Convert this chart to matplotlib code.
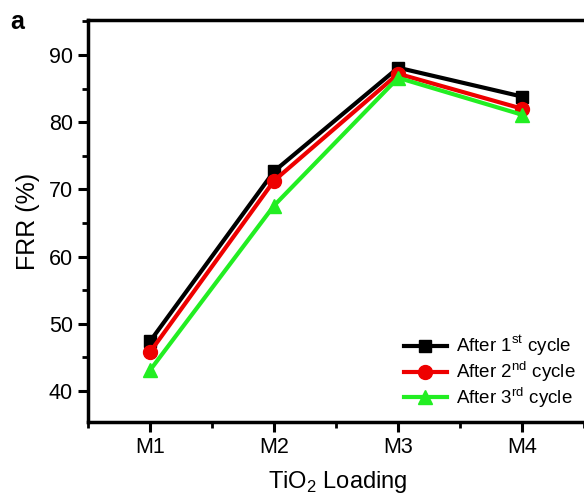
import matplotlib
matplotlib.use('Agg')
import matplotlib.pyplot as plt
from matplotlib.ticker import MultipleLocator

plt.rcParams['font.family'] = ['Liberation Sans', 'DejaVu Sans']

samples = ['M1', 'M2', 'M3', 'M4']
cycle1 = [47.4, 72.7, 88.1, 83.8]
cycle2 = [45.8, 71.3, 87.2, 82.0]
cycle3 = [43.1, 67.6, 86.6, 81.1]

fig = plt.figure(figsize=(5.84, 4.94), dpi=100)
ax = fig.add_axes([88 / 584, 72 / 494, 500 / 584, 402 / 494])

x = range(1, len(samples) + 1)
ax.plot(x, cycle1, color='black', marker='s', lw=3, ms=9, label='After 1$^{\\mathregular{st}}$ cycle')
ax.plot(x, cycle2, color='#ee0000', marker='o', lw=3, ms=10, label='After 2$^{\\mathregular{nd}}$ cycle')
ax.plot(x, cycle3, color='#22ee22', marker='^', lw=3, ms=10, label='After 3$^{\\mathregular{rd}}$ cycle')

ax.set_xlim(0.5, 4.53)
ax.set_ylim(35.4, 95.2)
ax.set_xticks(list(x))
ax.set_xticklabels(samples)
ax.xaxis.set_minor_locator(MultipleLocator(0.5))
ax.yaxis.set_major_locator(MultipleLocator(10))
ax.yaxis.set_minor_locator(MultipleLocator(5))

for s in ax.spines.values():
    s.set_linewidth(2.5)
ax.tick_params(which='major', direction='out', length=7, width=2.2, labelsize=15.5, pad=4)
ax.tick_params(which='minor', direction='out', length=4, width=2)

ax.set_ylabel('FRR (%)', fontsize=18, labelpad=6)
ax.set_xlabel('TiO$_\\mathregular{2}$ Loading', fontsize=17, labelpad=8)

ax.legend(loc='lower right', frameon=False, fontsize=13.5, handlelength=2.3,
          bbox_to_anchor=(1.0, 0.0), bbox_transform=ax.transAxes,
          labelspacing=0.05, handletextpad=0.5, borderaxespad=0.25)

fig.text(10 / 584, 1 - 22 / 494, 'a', fontsize=18, fontweight='bold', va='center')

fig.savefig('out.png', dpi=100)
